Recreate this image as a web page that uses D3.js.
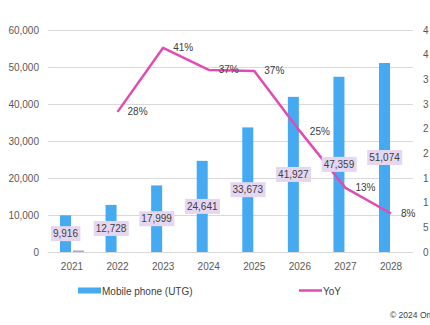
<!DOCTYPE html>
<html>
<head>
<meta charset="utf-8">
<script src="https://cdn.jsdelivr.net/npm/d3@7"></script>
<style>
  body { margin: 0; background: #fff; overflow: hidden; }
  svg { display: block; font-family: "Liberation Sans", Arial, sans-serif; }
</style>
</head>
<body>
<svg width="430" height="325"></svg>
<script>
var years = ["2021", "2022", "2023", "2024", "2025", "2026", "2027", "2028"];
var shipments = [9916, 12728, 17999, 24641, 33673, 41927, 47359, 51074];
var yoy = [null, 0.284, 0.414, 0.369, 0.367, 0.245, 0.130, 0.078];
var leftTicks = [0, 10000, 20000, 30000, 40000, 50000, 60000];
var rightTicks = [0, 0.05, 0.10, 0.15, 0.20, 0.25, 0.30, 0.35, 0.40, 0.45];

var svg = d3.select("svg");

var blue = "#45aaf2",
    pink = "#e04db2",
    boxFill = "#e5d7f1",
    textCol = "#404040",
    grid = "#d9d9d9";

var x = d3.scaleBand().domain(years).range([49.2, 413.8]).paddingInner(0);
var y = d3.scaleLinear().domain([0, 60000]).range([252, 30]);
var y2 = d3.scaleLinear().domain([0, 0.45]).range([252, 30]);
var barW = 11;
function cx(d) { return x(d) + x.bandwidth() / 2; }

// gridlines
svg.append("g")
  .selectAll("line")
  .data(leftTicks)
  .enter().append("line")
    .attr("x1", 48).attr("x2", 413)
    .attr("y1", function(d) { return Math.round(y(d)) + 0.5; })
    .attr("y2", function(d) { return Math.round(y(d)) + 0.5; })
    .attr("stroke", grid).attr("stroke-width", 1);

// left axis
var leftAxis = svg.append("g")
  .attr("transform", "translate(39,0)")
  .call(d3.axisLeft(y).tickValues(leftTicks).tickSize(0).tickPadding(0)
    .tickFormat(d3.format(",")));
leftAxis.select(".domain").remove();
leftAxis.selectAll("text").attr("font-size", 10).attr("fill", "#595959")
  .attr("font-family", "Liberation Sans, Arial, sans-serif");

// right axis - only the first glyph shows at the window edge, like the source
var pct = d3.format(".0%");
var rightAxis = svg.append("g")
  .attr("transform", "translate(423,0)")
  .call(d3.axisRight(y2).tickValues(rightTicks).tickSize(0).tickPadding(0)
    .tickFormat(function(d) { return pct(d).charAt(0); }));
rightAxis.select(".domain").remove();
rightAxis.selectAll("text").attr("font-size", 10).attr("fill", "#595959")
  .attr("font-family", "Liberation Sans, Arial, sans-serif");

// x axis labels
var xAxis = svg.append("g")
  .attr("transform", "translate(0,263)")
  .call(d3.axisBottom(x).tickSize(0).tickPadding(0));
xAxis.select(".domain").remove();
xAxis.selectAll("text").attr("font-size", 10).attr("fill", "#595959")
  .attr("font-family", "Liberation Sans, Arial, sans-serif");

// bars
var data = years.map(function(d, i) { return { year: d, v: shipments[i], r: yoy[i] }; });

svg.append("g")
  .selectAll("rect")
  .data(data)
  .enter().append("rect")
    .attr("x", function(d) { return cx(d.year) - barW - 1; })
    .attr("width", barW)
    .attr("y", function(d) { return y(d.v); })
    .attr("height", function(d) { return y(0) - y(d.v); })
    .attr("fill", blue);

// empty YoY marker for first year
svg.append("g")
  .selectAll("rect")
  .data(data.filter(function(d) { return d.r == null; }))
  .enter().append("rect")
    .attr("x", function(d) { return cx(d.year) + 1; })
    .attr("width", barW)
    .attr("y", y(0) - 1.5)
    .attr("height", 1.5)
    .attr("fill", "#b89fd3");

// line
var lineData = data.filter(function(d) { return d.r != null; });
var line = d3.line()
  .x(function(d) { return cx(d.year); })
  .y(function(d) { return y2(d.r); });

svg.append("path")
  .datum(lineData)
  .attr("d", line)
  .attr("fill", "none")
  .attr("stroke", pink)
  .attr("stroke-width", 2.5)
  .attr("stroke-linejoin", "round");

// bar value labels with boxes
var fmt = d3.format(",");
var lab = svg.append("g").selectAll("g")
  .data(data)
  .enter().append("g")
    .attr("transform", function(d) {
      return "translate(" + (cx(d.year) - barW / 2 - 1) + "," + ((y(d.v) + y(0)) / 2) + ")";
    });
lab.append("text")
  .text(function(d) { return fmt(d.v); })
  .attr("text-anchor", "middle")
  .attr("dy", "0.35em")
  .attr("font-size", 10)
  .attr("fill", textCol);
lab.each(function() {
  var g = d3.select(this);
  var bb = g.select("text").node().getBBox();
  g.insert("rect", "text")
    .attr("x", bb.x - 2).attr("y", -7.5)
    .attr("width", bb.width + 4).attr("height", 15)
    .attr("fill", boxFill);
});

// YoY labels
svg.append("g").selectAll("text")
  .data(lineData)
  .enter().append("text")
    .attr("x", function(d) { return cx(d.year) + 10; })
    .attr("y", function(d) { return y2(d.r); })
    .attr("dy", "0.35em")
    .attr("font-size", 10)
    .attr("fill", textCol)
    .text(function(d) { return pct(d.r); });

// legend
svg.append("rect").attr("x", 78).attr("y", 287.5).attr("width", 23).attr("height", 6).attr("fill", blue);
svg.append("text").attr("x", 102).attr("y", 291).attr("dy", "0.35em")
  .attr("font-size", 10).attr("fill", textCol).text("Mobile phone (UTG)");
svg.append("line").attr("x1", 299).attr("x2", 322).attr("y1", 290.5).attr("y2", 290.5)
  .attr("stroke", pink).attr("stroke-width", 2.5);
svg.append("text").attr("x", 323).attr("y", 291).attr("dy", "0.35em")
  .attr("font-size", 10).attr("fill", textCol).text("YoY");

// source
svg.append("text").attr("x", 390).attr("y", 315).attr("dy", "0.35em")
  .attr("font-size", 8.5).attr("fill", textCol).text("© 2024 Omdia");
</script>
</body>
</html>
